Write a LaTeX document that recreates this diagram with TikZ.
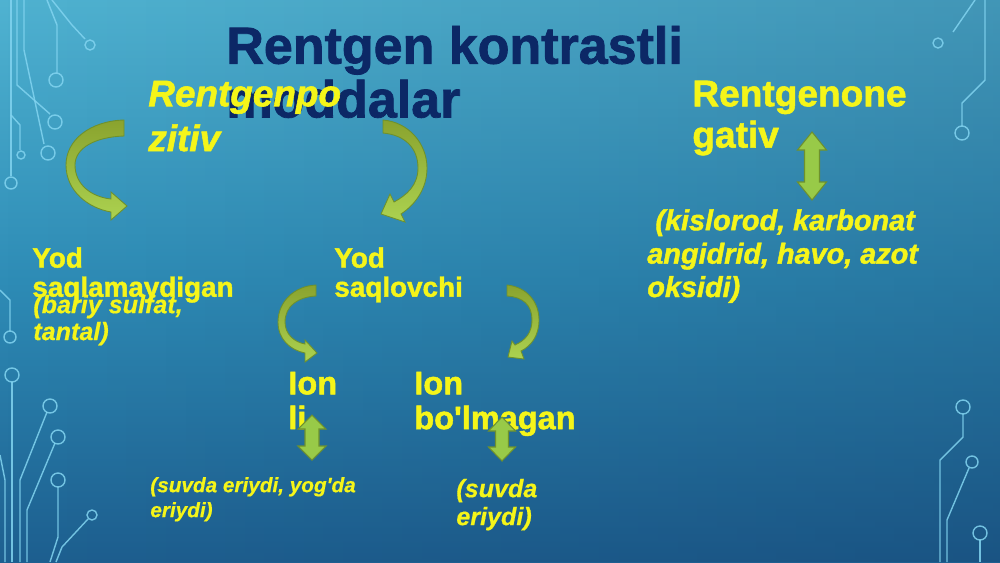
\documentclass[tikz,border=0pt]{standalone}
\usepackage{fontspec}
\setmainfont{Liberation Sans}
\newfontfamily\hvy{Liberation Sans}[BoldFeatures={FakeBold=1.5}, BoldItalicFeatures={FakeBold=1.5}]
\newfontfamily\nrm{Liberation Sans}[BoldItalicFeatures={FakeBold=0.5}]
\usetikzlibrary{fadings}
\definecolor{bgA}{RGB}{16,50,98}
\definecolor{bgB}{RGB}{26,86,136}
\definecolor{bgC}{RGB}{46,140,182}
\definecolor{bgD}{RGB}{86,186,214}
\definecolor{bgE}{RGB}{98,198,222}
\definecolor{bgdark}{RGB}{12,38,80}
\definecolor{titlenavy}{RGB}{12,40,102}
\definecolor{txtyellow}{RGB}{245,245,25}
\definecolor{circcol}{RGB}{130,212,240}
\definecolor{arrtop}{RGB}{138,163,46}
\definecolor{arrbot}{RGB}{172,210,80}
\definecolor{arrline}{RGB}{110,145,45}
\definecolor{dblfill}{RGB}{152,202,72}
\pgfdeclareverticalshading{bgsh}{100bp}{color(0bp)=(bgA); color(20bp)=(bgB); color(50bp)=(bgC); color(80bp)=(bgD); color(100bp)=(bgE)}
\tikzfading[name=fadelr, left color=transparent!100, right color=transparent!0]
\newcommand\dblarr[6]{%
  \filldraw[dblfill, draw=arrline, line width=0.6pt] (#1,#2) -- (#1+#4/2,#2+#6) -- (#1+#5/2,#2+#6) -- (#1+#5/2,#3-#6) -- (#1+#4/2,#3-#6) -- (#1,#3) -- (#1-#4/2,#3-#6) -- (#1-#5/2,#3-#6) -- (#1-#5/2,#2+#6) -- (#1-#4/2,#2+#6) -- cycle;}
\newcommand\apos{\symbol{"27}}
\tikzset{
  ttl/.style={font=\fontsize{29.6pt}{30.6pt}\selectfont\hvy\bfseries, text=titlenavy, align=left, inner sep=0pt, anchor=north west},
  ylw/.style={text=txtyellow, align=left, inner sep=0pt, anchor=north west},
  circline/.style={draw=circcol, line width=0.8pt, opacity=0.85},
  curvarr/.style={top color=arrtop, bottom color=arrbot, draw=arrline, line width=0.5pt}
}
\begin{document}
\begin{tikzpicture}[x=0.02cm,y=-0.02cm]
\useasboundingbox (0,0) rectangle (1000,562);
% background
\shade[shading=bgsh] (0,0) rectangle (1000,562);
\fill[bgdark, path fading=fadelr, opacity=0.2] (0,0) rectangle (1000,562);
% circuit top-left
\draw[circline] (11,0) -- (11,176);
\draw[circline] (11,183) circle[radius=0.12cm];
\draw[circline] (24,0) -- (24,50) -- (44,144);
\draw[circline] (48,153) circle[radius=0.14cm];
\draw[circline] (47,0) -- (57,25) -- (57,73);
\draw[circline] (56,80) circle[radius=0.14cm];
\draw[circline] (52,0) -- (72,25) -- (85,39);
\draw[circline] (90,45) circle[radius=0.1cm];
\draw[circline] (17,0) -- (17,85) -- (50,114);
\draw[circline] (55,122) circle[radius=0.14cm];
\draw[circline] (11,115) -- (20,125) -- (20,150);
\draw[circline] (21,155) circle[radius=0.08cm];
% circuit top-right
\draw[circline] (975,0) -- (953,32);
\draw[circline] (938,43) circle[radius=0.1cm];
\draw[circline] (985,0) -- (985,80) -- (962,103) -- (962,126);
\draw[circline] (962,133) circle[radius=0.14cm];
% circuit bottom-left
\draw[circline] (0,290) -- (10,300) -- (10,331);
\draw[circline] (10,337) circle[radius=0.12cm];
\draw[circline] (12,382) -- (12,562);
\draw[circline] (12,375) circle[radius=0.14cm];
\draw[circline] (47,412) -- (20,480) -- (20,562);
\draw[circline] (50,406) circle[radius=0.14cm];
\draw[circline] (55,443) -- (27,510) -- (27,562);
\draw[circline] (58,437) circle[radius=0.14cm];
\draw[circline] (58,487) -- (58,537) -- (50,562);
\draw[circline] (58,480) circle[radius=0.14cm];
\draw[circline] (88,519) -- (62,547) -- (56,562);
\draw[circline] (92,515) circle[radius=0.1cm];
\draw[circline] (0,455) -- (5,480) -- (5,562);
% circuit bottom-right
\draw[circline] (963,414) -- (963,437) -- (940,460) -- (940,562);
\draw[circline] (963,407) circle[radius=0.14cm];
\draw[circline] (969,468) -- (947,520) -- (947,562);
\draw[circline] (972,462) circle[radius=0.12cm];
\draw[circline] (980,540) -- (980,562);
\draw[circline] (980,533) circle[radius=0.14cm];
% title
\node[ttl] (title) at (226,25.6) {Rentgen kontrastli\\moddalar};
% texts
\node[ylw, font=\fontsize{21pt}{25.5pt}\selectfont\hvy\bfseries\itshape] (pos) at (148,80.5) {Rentgenpo\\zitiv};
\node[ylw, font=\fontsize{21.1pt}{23.5pt}\selectfont\hvy\bfseries] (neg) at (692,80.4) {Rentgenone\\gativ};
\node[ylw, font=\fontsize{16.4pt}{19pt}\selectfont\hvy\bfseries\itshape] (negex) at (647,209) {\hspace*{4.6pt}(kislorod, karbonat\\angidrid, havo, azot\\oksidi)};
\node[ylw, font=\fontsize{15.85pt}{16.6pt}\selectfont\hvy\bfseries] (ysm) at (32,247) {Yod\\saqlamaydigan};
\node[ylw, font=\fontsize{14.3pt}{15.3pt}\selectfont\nrm\bfseries\itshape] (ysmex) at (33,294.6) {(bariy sulfat,\\tantal)};
\node[ylw, font=\fontsize{15.85pt}{16.6pt}\selectfont\hvy\bfseries] (ys) at (334,247) {Yod\\saqlovchi};
\node[ylw, font=\fontsize{18.5pt}{19.8pt}\selectfont\hvy\bfseries] (ionli) at (288,371.6) {Ion\\li};
\node[ylw, font=\fontsize{18.5pt}{19.8pt}\selectfont\hvy\bfseries] (ionb) at (414,371.6) {Ion\\bo\apos lmagan};
\node[ylw, font=\fontsize{11.8pt}{14.2pt}\selectfont\nrm\bfseries\itshape] (ionliex) at (150,476.8) {(suvda eriydi, yog\apos da\\eriydi)};
\node[ylw, font=\fontsize{14.3pt}{15.9pt}\selectfont\nrm\bfseries\itshape] (ionbex) at (456,478.6) {(suvda\\eriydi)};
% curved arrows
\shadedraw[curvarr] (124,120) .. controls (90,121) and (66,140) .. (66,165) .. controls (66,191) and (88,208) .. (111,212) -- (111,220) -- (127,206) -- (111,192) -- (111,199) .. controls (92,197) and (75,185) .. (75,165) .. controls (75,148) and (95,137) .. (124,136) -- cycle;
\shadedraw[curvarr] (383,120) .. controls (408,122) and (427,143) .. (427,168) .. controls (427,188) and (416,204) .. (401,214) -- (405,222) -- (381,214) -- (390,194) -- (394,202) .. controls (407,195) and (418,185) .. (418,168) .. controls (418,148) and (405,135) .. (383,133) -- cycle;
\shadedraw[curvarr] (316,285) .. controls (294,286) and (278,302) .. (278,322) .. controls (278,339) and (290,350) .. (305,353) -- (305,362) -- (317,353) -- (305,340) -- (305,344) .. controls (294,342) and (285,334) .. (285,322) .. controls (285,306) and (298,297) .. (316,296) -- cycle;
\shadedraw[curvarr] (507,285) .. controls (527,287) and (539,302) .. (539,320) .. controls (539,336) and (531,346) .. (521,351) -- (524,359) -- (508,357) -- (512,341) -- (515,345) .. controls (526,340) and (532,332) .. (532,320) .. controls (532,305) and (523,297) .. (507,296) -- cycle;
% double arrows
\dblarr{812}{132}{200}{29}{15}{18}
\dblarr{312}{415}{460}{28}{14}{14}
\dblarr{502}{417}{461}{27}{13}{14}
\end{tikzpicture}
\end{document}
